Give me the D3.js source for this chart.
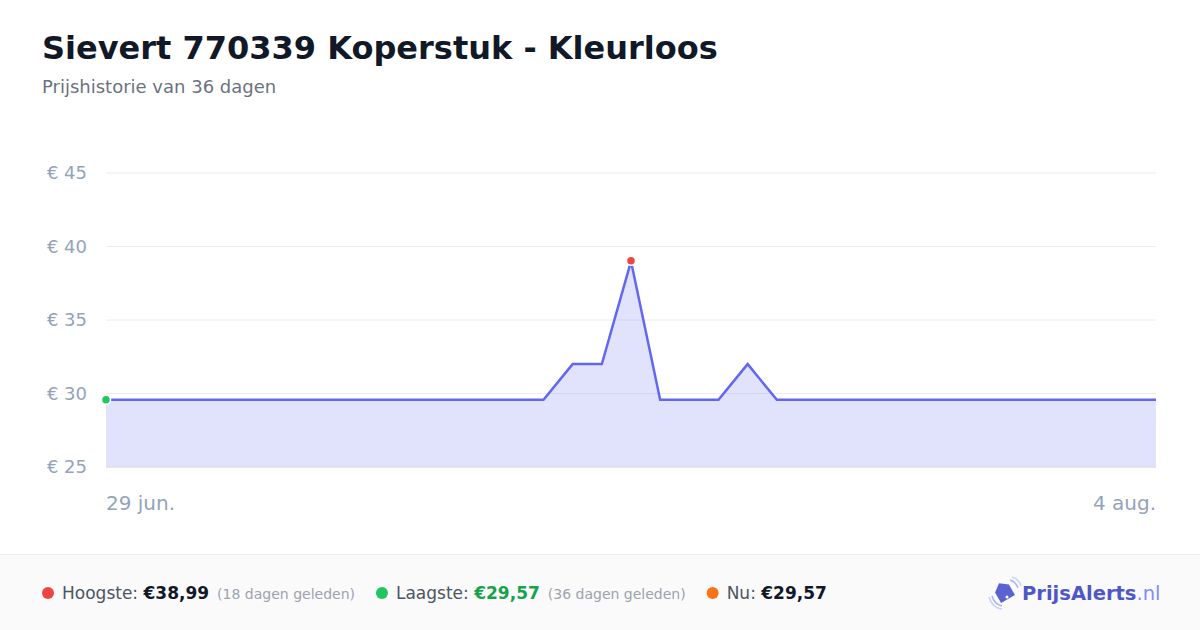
<!DOCTYPE html>
<html><head><meta charset="utf-8">
<script src="https://cdn.jsdelivr.net/npm/d3@7"></script>
<style>
html,body{margin:0;padding:0;background:#fff;}
svg{display:block;font-family:"DejaVu Sans",sans-serif;}
</style></head>
<body>
<svg id="c" width="1200" height="630"></svg>
<script>
const title = "Sievert 770339 Koperstuk - Kleurloos";
const subtitle = "Prijshistorie van 36 dagen";
const dayIndex = [0,1,2,3,4,5,6,7,8,9,10,11,12,13,14,15,16,17,18,19,20,21,22,23,24,25,26,27,28,29,30,31,32,33,34,35,36];
const prices = [29.57,29.57,29.57,29.57,29.57,29.57,29.57,29.57,29.57,29.57,29.57,29.57,29.57,29.57,29.57,29.57,32,32,38.99,29.57,29.57,29.57,32,29.57,29.57,29.57,29.57,29.57,29.57,29.57,29.57,29.57,29.57,29.57,29.57,29.57,29.57];
const yTicks = [25,30,35,40,45];
const xTickLabels = ["29 jun.","4 aug."];
const statLabels = ["Hoogste:","Laagste:","Nu:"];
const statValues = ["€38,99","€29,57","€29,57"];
const statNotes = ["(18 dagen geleden)","(36 dagen geleden)",""];

(function () {
const svg = d3.select("#c");
const W = 1200, H = 630;
const pL = 106, pR = 1156, pT = 173, pB = 467;
const x = d3.scaleLinear().domain([0, 36]).range([pL, pR]);
const y = d3.scaleLinear().domain([25, 45]).range([pB, pT]);

svg.append("rect").attr("width", W).attr("height", H).attr("fill", "#ffffff");

svg.append("text").attr("x", 42).attr("y", 59).attr("font-size", 32).attr("font-weight", "bold")
  .attr("fill", "#111827").text(title);
svg.append("text").attr("x", 42).attr("y", 93).attr("font-size", 18).attr("fill", "#6b7280").text(subtitle);

// grid
svg.append("g").selectAll("line").data(yTicks).join("line")
  .attr("x1", pL).attr("x2", pR).attr("y1", d => y(d)).attr("y2", d => y(d))
  .attr("stroke", "#ececee").attr("stroke-width", 1);
svg.append("g").selectAll("text").data(yTicks).join("text")
  .attr("x", 87).attr("y", d => y(d) + 6).attr("text-anchor", "end")
  .attr("font-size", 18).attr("fill", "#94a3b8").text(d => "€ " + d);

// x labels
svg.append("text").attr("x", pL).attr("y", 510).attr("font-size", 20).attr("fill", "#94a3b8").text(xTickLabels[0]);
svg.append("text").attr("x", pR).attr("y", 510).attr("text-anchor", "end").attr("font-size", 20).attr("fill", "#94a3b8").text(xTickLabels[1]);

const data = dayIndex.map((d, i) => ({ d, p: prices[i] }));
const area = d3.area().x(o => x(o.d)).y0(y(25)).y1(o => y(o.p));
const line = d3.line().x(o => x(o.d)).y(o => y(o.p));
svg.append("path").datum(data).attr("d", area).attr("fill", "#818cf8").attr("fill-opacity", 0.24);
svg.append("line").attr("x1", pL).attr("x2", pR).attr("y1", y(25)).attr("y2", y(25)).attr("stroke", "#e0e0e6").attr("stroke-width", 1.5);
svg.append("path").datum(data).attr("d", line).attr("fill", "none").attr("stroke", "#6366f1").attr("stroke-width", 2.5).attr("stroke-linejoin", "miter");

// markers
const maxI = prices.indexOf(d3.max(prices));
svg.append("circle").attr("cx", x(dayIndex[maxI])).attr("cy", y(prices[maxI]) - 0.5).attr("r", 4.5)
  .attr("fill", "#ef4444").attr("stroke", "#fff").attr("stroke-width", 1.5);
svg.append("circle").attr("cx", x(dayIndex[0])).attr("cy", y(prices[0])).attr("r", 4.5)
  .attr("fill", "#22c55e").attr("stroke", "#fff").attr("stroke-width", 1.5);

// footer
svg.append("rect").attr("x", 0).attr("y", 554).attr("width", W).attr("height", 76).attr("fill", "#fafafa");
svg.append("line").attr("x1", 0).attr("x2", W).attr("y1", 554.5).attr("y2", 554.5).attr("stroke", "#efefef");

const dotColors = ["#ef4444", "#22c55e", "#f97316"];
const valColors = ["#111827", "#16a34a", "#111827"];
const fy = 599;
let cx = 42;
statLabels.forEach((lab, i) => {
  svg.append("circle").attr("cx", cx + 6).attr("cy", fy - 6).attr("r", 6).attr("fill", dotColors[i]);
  const g = svg.append("text").attr("x", cx + 20).attr("y", fy).attr("font-size", 17);
  g.append("tspan").attr("fill", "#4b5563").text(lab + " ");
  g.append("tspan").attr("fill", valColors[i]).attr("font-weight", "bold").text(statValues[i]);
  if (statNotes[i]) g.append("tspan").attr("dx", 8).attr("font-size", 14).attr("fill", "#9ca3af").text(statNotes[i]);
  const w = g.node().getBBox().width;
  cx = cx + 20 + w + 21;
});

// logo
const lg = svg.append("g").attr("transform", "translate(990,578)");
lg.append("path").attr("d", "M6,10 L14,4 L22,10 L22,22 L6,22 Z").attr("transform", "rotate(-30 14 14)")
  .attr("fill", "#5b63d3");
lg.append("circle").attr("cx", 17).attr("cy", 19).attr("r", 1.5).attr("fill", "#fff");
lg.append("path").attr("d", "M2,18 Q4,26 12,28").attr("fill", "none").attr("stroke", "#a5b4fc").attr("stroke-width", 1.5);
lg.append("path").attr("d", "M-1,19 Q2,30 12,31").attr("fill", "none").attr("stroke", "#c7d2fe").attr("stroke-width", 1.5);
lg.append("path").attr("d", "M20,2 Q26,4 28,10").attr("fill", "none").attr("stroke", "#a5b4fc").attr("stroke-width", 1.5);
lg.append("path").attr("d", "M22,-1 Q29,1 31,8").attr("fill", "none").attr("stroke", "#c7d2fe").attr("stroke-width", 1.5);
const lt = svg.append("text").attr("x", 1022).attr("y", 600).attr("font-size", 19.5);
lt.append("tspan").attr("font-weight", "bold").attr("fill", "#4f56c6").text("PrijsAlerts");
lt.append("tspan").attr("fill", "#818cf8").text(".nl");
})();
</script>
</body></html>
